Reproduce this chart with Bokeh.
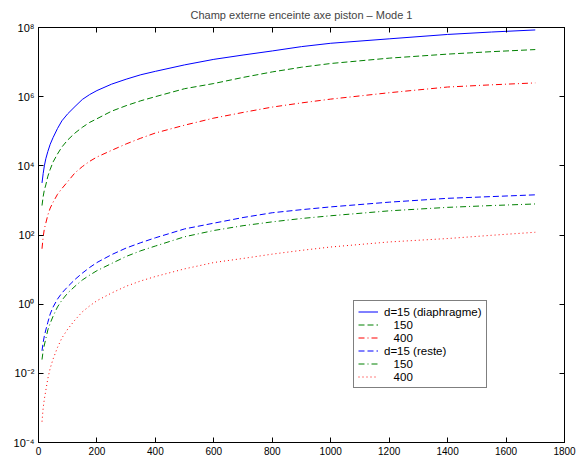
from bokeh.plotting import figure
from bokeh.models import (Range1d, FixedTicker, LinearAxis, LogAxis, Legend,
                          LegendItem, CustomJSTickFormatter)
from bokeh.embed import file_html
from bokeh.resources import INLINE

TITLE = "Champ externe enceinte axe piston \u2013 Mode 1"

x = [12, 16, 20, 25, 32, 40, 50, 65, 80, 100, 125, 150, 175, 200, 250, 300,
     350, 400, 500, 600, 700, 800, 900, 1000, 1200, 1400, 1550, 1700]

diaph_d15 = [3.2e3, 6.0e3, 1.0e4, 1.6e4, 2.6e4, 4.2e4, 6.6e4, 1.2e5, 2.0e5,
             3.2e5, 5.2e5, 8.3e5, 1.15e6, 1.5e6, 2.3e6, 3.2e6, 4.3e6, 5.4e6,
             8.3e6, 1.2e7, 1.6e7, 2.1e7, 2.8e7, 3.5e7, 4.7e7, 6.3e7, 7.4e7,
             8.5e7]
diaph_150 = [7.1e2, 1.3e3, 2.0e3, 2.8e3, 5.0e3, 7.9e3, 1.3e4, 2.2e4, 3.5e4,
             5.6e4, 8.9e4, 1.3e5, 1.8e5, 2.3e5, 3.8e5, 5.5e5, 7.6e5, 1.0e6,
             1.7e6, 2.4e6, 3.6e6, 5.2e6, 7.1e6, 9.1e6, 1.3e7, 1.7e7, 2.0e7,
             2.3e7]
diaph_400 = [40, 89, 150, 220, 380, 600, 890, 1.5e3, 2.2e3, 3.5e3, 6.3e3,
             9.5e3, 1.35e4, 1.8e4, 2.8e4, 4.3e4, 6.3e4, 8.9e4, 1.5e5, 2.4e5,
             3.5e5, 5.0e5, 6.6e5, 8.5e5, 1.3e6, 1.9e6, 2.2e6, 2.5e6]
reste_d15 = [0.045, 0.079, 0.12, 0.18, 0.30, 0.52, 0.83, 1.4, 2.1, 3.2, 5.2,
             7.9, 11.5, 16, 27, 42, 60, 83, 150, 220, 320, 440, 540, 650, 890,
             1150, 1290, 1450]
reste_150 = [0.025, 0.045, 0.066, 0.10, 0.18, 0.28, 0.45, 0.83, 1.3, 2.1,
             3.3, 5.0, 6.9, 9.3, 15, 24, 35, 48, 89, 135, 186, 240, 300, 360,
             500, 630, 710, 790]
reste_400 = [4.0e-4, 1.0e-3, 1.8e-3, 3.2e-3, 7.1e-3, 0.014, 0.026, 0.056,
             0.105, 0.19, 0.35, 0.60, 0.89, 1.26, 2.1, 3.3, 4.7, 6.3, 10.5, 16,
             21, 28, 36, 45, 63, 79, 98, 120]

series = [diaph_d15, diaph_150, diaph_400, reste_d15, reste_150, reste_400]
labels = ["d=15 (diaphragme)", "   150", "   400", "d=15 (reste)", "   150", "   400"]
colors = ["#0000ff", "#008000", "#ff0000", "#0000ff", "#008000", "#ff0000"]
dashes = ["solid", "6 3", "6 3 1 3", "6 3", "6 3 1 3", "1 3"]

x_ticks = [0, 200, 400, 600, 800, 1000, 1200, 1400, 1600, 1800]
y_ticks = [1e-4, 1e-2, 1e0, 1e2, 1e4, 1e6, 1e8]
y_tick_labels = ["10\u207b\u2074", "10\u207b\u00b2", "10\u2070", "10\u00b2",
                 "10\u2074", "10\u2076", "10\u2078"]

FONT = "Liberation Sans"

p = figure(width=576, height=458, output_backend="svg", toolbar_location=None,
           y_axis_type="log", x_range=Range1d(0, 1800),
           y_range=Range1d(1e-4, 1e8), min_border_left=38,
           min_border_right=12, min_border_top=27, min_border_bottom=16)
p.title.text = TITLE
p.title.align = "center"
p.title.vertical_align = "top"
p.title.text_font = FONT
p.title.text_font_size = "11px"
p.title.text_font_style = "normal"
p.title.standoff = 10
p.grid.visible = False
p.outline_line_color = "black"
p.outline_line_width = 1
p.background_fill_color = "white"
p.border_fill_color = "white"

renderers = []
for ys, c, d in zip(series, colors, dashes):
    r = p.line(x, ys, line_color=c, line_width=1, line_dash=d)
    renderers.append(r)

ylab = CustomJSTickFormatter(args=dict(labs=y_tick_labels), code="""
    const e = Math.round(Math.log10(tick));
    const i = Math.round((e + 4) / 2);
    return labs[i];
""")
blank = CustomJSTickFormatter(code="return '';")

def style(ax, show, size="10px"):
    ax.axis_line_color = "black"
    ax.axis_line_width = 1
    ax.major_tick_in = 5
    ax.major_tick_out = 0
    ax.minor_tick_in = 0
    ax.minor_tick_out = 0
    ax.major_tick_line_color = "black"
    ax.major_label_text_font = FONT
    ax.major_label_text_font_size = size
    ax.major_label_standoff = 4 if show else 0
    ax.major_label_text_color = "black"

p.xaxis.ticker = FixedTicker(ticks=x_ticks, minor_ticks=[])
p.yaxis.ticker = FixedTicker(ticks=y_ticks, minor_ticks=[])
p.yaxis.formatter = ylab
style(p.xaxis[0], True)
style(p.yaxis[0], True, "11px")

top = LinearAxis(ticker=FixedTicker(ticks=x_ticks, minor_ticks=[]), formatter=blank)
style(top, False)
p.add_layout(top, "above")
right = LogAxis(ticker=FixedTicker(ticks=y_ticks, minor_ticks=[]), formatter=blank)
style(right, False)
p.add_layout(right, "right")

items = [LegendItem(label=l, renderers=[r]) for l, r in zip(labels, renderers)]
legend = Legend(items=items, location=(315, 54))
legend.border_line_color = "black"
legend.border_line_width = 1
legend.background_fill_alpha = 1
legend.label_text_font = FONT
legend.label_text_font_size = "11.5px"
legend.label_text_color = "black"
legend.glyph_width = 20
legend.glyph_height = 13
legend.label_height = 13
legend.spacing = 0
legend.padding = 4
legend.margin = 0
legend.label_standoff = 6
p.add_layout(legend, "center")

open("out.html", "w").write(file_html(p, INLINE))
